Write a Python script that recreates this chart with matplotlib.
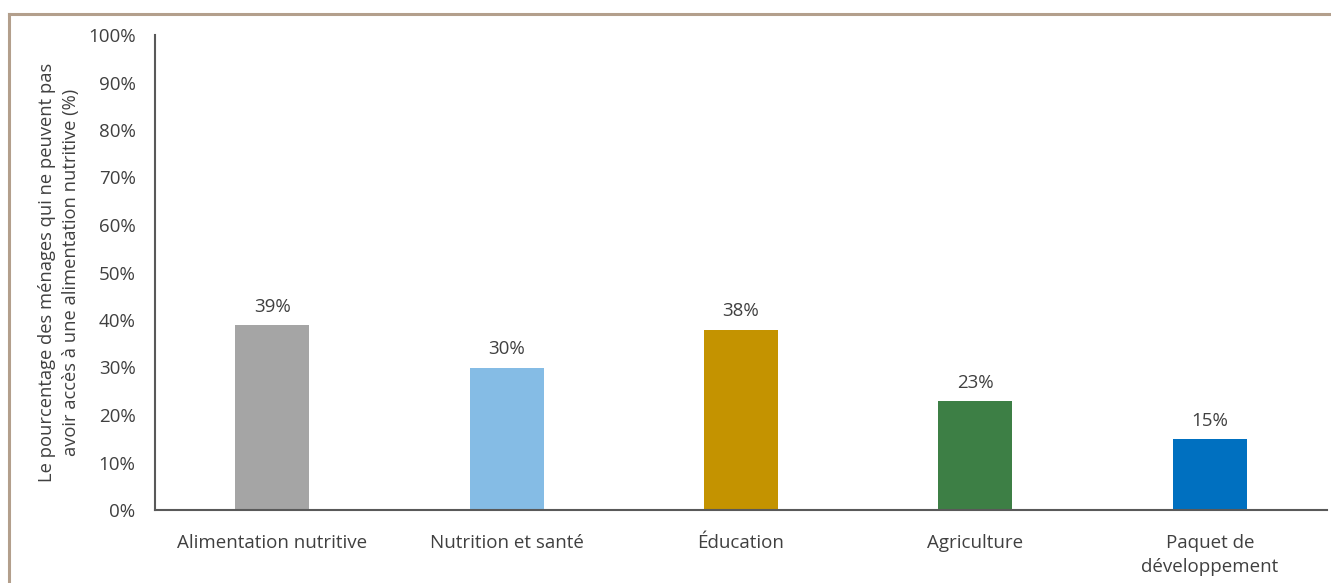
import matplotlib.pyplot as plt
import numpy as np
from matplotlib.lines import Line2D

# Data
categories = ["Alimentation nutritive", "Nutrition et santé", "Éducation",
              "Agriculture", "Paquet de\ndéveloppement"]
values = [39, 30, 38, 23, 15]
colors = ["#A5A5A5", "#85BCE5", "#C49300", "#3D7F45", "#0070C0"]
yticks = [0, 10, 20, 30, 40, 50, 60, 70, 80, 90, 100]

plt.rcParams['font.family'] = ['Open Sans', 'DejaVu Sans']
txt = "#404040"
fs = 13.5

fig = plt.figure(figsize=(13.31, 5.83), dpi=100)
ax = fig.add_axes([155/1331, 1-510/583, (1327-155)/1331, (510-35)/583])

x = np.arange(len(categories))
bars = ax.bar(x, values, width=0.315, color=colors, zorder=2)
for xi, v in zip(x, values):
    ax.text(xi, v + 1.9, f"{v}%", ha='center', va='bottom', fontsize=fs, color=txt)

ax.set_xlim(-0.5, len(categories) - 0.5)
ax.set_ylim(0, 100)
ax.set_yticks(yticks)
ax.set_yticklabels([f"{t}%" for t in yticks], fontsize=fs, color=txt)
ax.set_xticks(x)
ax.set_xticklabels(categories, fontsize=fs, color=txt, linespacing=1.45)
ax.tick_params(axis='both', length=0)
ax.tick_params(axis='y', pad=14)
ax.tick_params(axis='x', pad=17)
for s in ['top', 'right']:
    ax.spines[s].set_visible(False)
for s in ['left', 'bottom']:
    ax.spines[s].set_color('#595959')
    ax.spines[s].set_linewidth(1.5)

ax.set_ylabel("Le pourcentage des ménages qui ne peuvent pas\navoir accès à une alimentation nutritive (%)",
              fontsize=13.2, color=txt, labelpad=6, linespacing=1.4)

# outer frame lines (top and left)
fig.add_artist(Line2D([8.5/1331, 1], [1-13.5/583, 1-13.5/583], color='#B39F8C', lw=2.2,
                      transform=fig.transFigure))
fig.add_artist(Line2D([8.5/1331, 8.5/1331], [0, 1-13.5/583], color='#B39F8C', lw=2.2,
                      transform=fig.transFigure))

fig.savefig("out.png", dpi=100)
